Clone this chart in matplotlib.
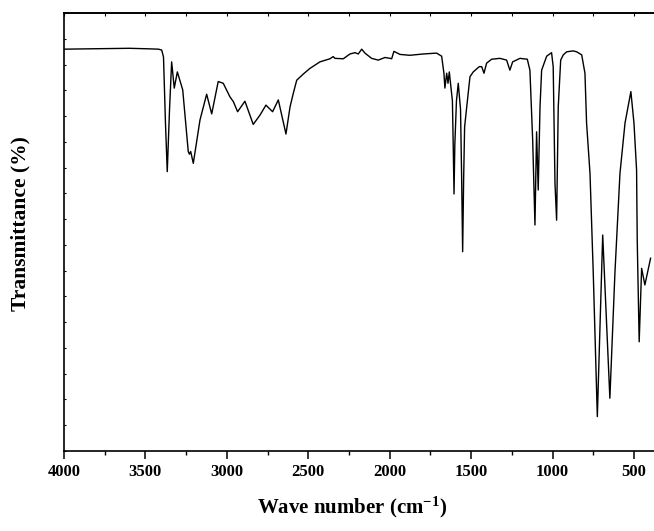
import numpy as np
import matplotlib
matplotlib.use("Agg")
import matplotlib.pyplot as plt
from matplotlib.ticker import MultipleLocator

# ── FTIR spectrum ──────────────────────────────────────────────────
wavenumber = [
    4000, 3800, 3600, 3500, 3420, 3400, 3389, 3377, 3366, 3352, 3339, 3323,
    3304, 3271, 3237, 3230, 3222, 3206, 3165, 3124, 3093, 3053, 3022, 2981,
    2960, 2934, 2889, 2838, 2797, 2760, 2719, 2684, 2637, 2612, 2592, 2571,
    2531, 2490, 2428, 2367, 2347, 2336, 2285, 2244, 2213, 2193, 2172, 2152,
    2111, 2070, 2029, 1998, 1988, 1974, 1937, 1876, 1794, 1712, 1681, 1667,
    1661, 1650, 1642, 1634, 1615, 1610, 1605, 1600, 1590, 1579, 1565, 1558,
    1552, 1546, 1540, 1527, 1507, 1487, 1450, 1435, 1421, 1405, 1374, 1323,
    1282, 1262, 1245, 1200, 1155, 1139, 1122, 1108, 1098, 1088, 1077, 1067,
    1036, 1006, 996, 985, 975, 965, 950, 934, 913, 873, 852, 821,
    801, 791, 770, 750, 725, 692, 648, 617, 586, 555, 519, 500,
    484, 480, 468, 453, 433, 398,
]
transmittance = [
    91.8, 91.9, 92.0, 91.9, 91.8, 91.6, 90.0, 75.0, 63.8, 78.0, 88.9, 82.9,
    86.6, 82.5, 68.4, 67.8, 68.4, 65.7, 75.6, 81.5, 77.0, 84.4, 84.0, 80.9,
    79.8, 77.5, 79.9, 74.6, 76.7, 79.0, 77.5, 80.2, 72.4, 78.6, 81.7, 84.7,
    86.1, 87.4, 88.9, 89.6, 90.1, 89.7, 89.6, 90.7, 91.0, 90.7, 91.8, 90.9,
    89.7, 89.3, 89.9, 89.7, 89.6, 91.3, 90.6, 90.4, 90.7, 90.9, 90.2, 86.3,
    82.9, 86.3, 84.0, 86.6, 80.0, 70.0, 58.7, 70.0, 80.0, 84.0, 78.0, 62.0,
    45.5, 62.0, 74.0, 78.6, 85.5, 86.6, 87.8, 87.8, 86.3, 88.6, 89.5, 89.7,
    89.3, 87.0, 88.9, 89.7, 89.5, 87.0, 71.0, 51.6, 72.9, 59.6, 78.6, 87.0,
    90.2, 91.0, 87.8, 61.1, 52.7, 78.6, 89.3, 90.5, 91.2, 91.4, 91.2, 90.5,
    86.3, 74.9, 63.4, 40.6, 7.8, 49.3, 12.0, 40.6, 63.4, 74.9, 82.1, 74.9,
    64.2, 48.2, 24.9, 41.7, 37.9, 44.0,
]
xticks = [4000, 3500, 3000, 2500, 2000, 1500, 1000, 500]

# ── Style ─────────────────────────────────────────────────────────
plt.rcParams['font.family'] = ['Liberation Serif', 'DejaVu Serif']
plt.rcParams['font.weight'] = 'bold'
plt.rcParams['mathtext.fontset'] = 'custom'
plt.rcParams['mathtext.rm'] = 'Liberation Serif:bold'
plt.rcParams['mathtext.default'] = 'rm'

fig = plt.figure(figsize=(6.54, 5.31), dpi=100)
ax = fig.add_axes([64 / 654, 80.3 / 531, 1 - 64 / 654, 437.4 / 531])

ax.plot(wavenumber, transmittance, color='black', lw=1.0)

ax.set_xlim(4000, 377)
ax.set_ylim(0, 100)

ax.set_xticks(xticks)
ax.set_xticklabels([str(t) for t in xticks], fontsize=12, fontweight='bold')
ax.xaxis.set_minor_locator(MultipleLocator(250))
ax.tick_params(axis='x', which='major', direction='out', length=5.5, width=1.1, pad=4)
ax.tick_params(axis='x', which='minor', direction='out', length=3, width=1.0)

ax.yaxis.set_major_locator(MultipleLocator(100 / 17))
ax.tick_params(axis='y', which='major', direction='in', length=1.5, width=0.8,
               labelleft=False)

top = ax.secondary_xaxis('top')
top.set_xticks(xticks)
top.xaxis.set_minor_locator(MultipleLocator(250))
top.tick_params(axis='x', which='both', direction='in', length=2, width=0.8,
                labeltop=False)

for side in ['left', 'bottom', 'top']:
    ax.spines[side].set_linewidth(1.2)
top.spines['top'].set_linewidth(1.2)
ax.spines['right'].set_visible(False)

ax.set_xlabel(r'Wave number (cm$^{-1}$)', fontsize=15, fontweight='bold')
ax.xaxis.set_label_coords(0.488, -0.1)
ax.set_ylabel('Transmittance (%)', fontsize=15.5, fontweight='bold')
ax.yaxis.set_label_coords(-0.056, 0.52)

plt.savefig("out.png", dpi=100)
